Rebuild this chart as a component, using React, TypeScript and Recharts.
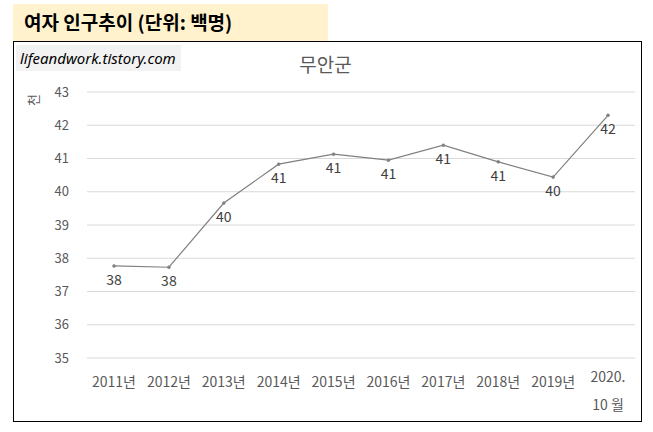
import { LineChart, Line, XAxis, YAxis, CartesianGrid, LabelList } from "recharts";

const categories = [
  "2011년",
  "2012년",
  "2013년",
  "2014년",
  "2015년",
  "2016년",
  "2017년",
  "2018년",
  "2019년",
  "2020.\n10 월",
];

// 여자 인구 (천명 단위로 환산한 값)
const population = [37.77, 37.73, 39.66, 40.83, 41.13, 40.95, 41.4, 40.9, 40.44, 42.3];

const yTicks = [35, 36, 37, 38, 39, 40, 41, 42, 43];

const data = categories.map((name, i) => ({ name, value: population[i] }));

const FONT = "'Noto Sans CJK KR', 'Noto Sans', sans-serif";

const XTick = (props: any) => {
  const { x, y, payload } = props;
  const lines = String(payload.value).split("\n");
  const multi = lines.length > 1;
  return (
    <text
      x={x}
      y={multi ? y - 5 : y}
      textAnchor="middle"
      fill="#595959"
      fontSize={14}
      fontFamily={FONT}
    >
      {lines.map((l, i) => (
        <tspan key={i} x={x} dy={i === 0 ? "0.71em" : 28}>
          {l}
        </tspan>
      ))}
    </text>
  );
};

export default function App() {
  return (
    <div
      style={{
        position: "absolute",
        left: 0,
        top: 0,
        width: 653,
        height: 432,
        background: "#fff",
        fontFamily: FONT,
      }}
    >
      {/* 제목 박스 */}
      <div
        style={{
          position: "absolute",
          left: 13,
          top: 4,
          width: 315,
          height: 37,
          background: "#fff2cc",
        }}
      />
      <div
        style={{
          position: "absolute",
          left: 24,
          top: 8,
          fontSize: 19,
          fontWeight: 700,
          color: "#000",
          lineHeight: "28px",
        }}
      >
        여자 인구추이 (단위: 백명)
      </div>

      {/* 차트 테두리 */}
      <div
        style={{
          position: "absolute",
          left: 13,
          top: 41,
          width: 627,
          height: 379,
          border: "1.5px solid #000",
        }}
      />

      {/* 워터마크 */}
      <div
        style={{
          position: "absolute",
          left: 16,
          top: 45,
          width: 165,
          height: 26,
          background: "#f2f2f2",
          fontStyle: "italic",
          fontSize: 15,
          lineHeight: "26px",
          color: "#000",
          paddingLeft: 4,
          boxSizing: "border-box",
          fontFamily: "'Noto Sans', sans-serif",
        }}
      >
        lifeandwork.tistory.com
      </div>

      <div
        style={{
          position: "absolute",
          left: 0,
          width: 653,
          top: 51,
          textAlign: "center",
          fontSize: 19,
          color: "#595959",
          lineHeight: "26px",
        }}
      >
        <span style={{ position: "relative", left: -1 }}>무안군</span>
      </div>

      <div
        style={{
          position: "absolute",
          left: 27,
          top: 92,
          fontSize: 13,
          color: "#595959",
          transform: "rotate(-90deg)",
          lineHeight: "16px",
        }}
      >
        천
      </div>

      <div style={{ position: "absolute", left: 0, top: 0 }}>
        <LineChart
          width={653}
          height={432}
          data={data}
          margin={{ top: 92, right: 18, bottom: 34, left: 27 }}
        >
          <CartesianGrid vertical={false} stroke="#d9d9d9" strokeWidth={1} />
          <XAxis
            dataKey="name"
            axisLine={false}
            tickLine={false}
            height={40}
            tickMargin={13}
            interval={0}
            padding={{ left: 27, right: 27 }}
            tick={<XTick />}
          />
          <YAxis
            domain={[35, 43]}
            ticks={yTicks}
            axisLine={false}
            tickLine={false}
            width={60}
            tickMargin={12}
            tick={{ fill: "#595959", fontSize: 13, fontFamily: FONT }}
          />
          <Line
            dataKey="value"
            stroke="#808080"
            strokeWidth={1.2}
            dot={{ r: 1.5, fill: "#808080", stroke: "#808080", strokeWidth: 0.5 }}
            isAnimationActive={false}
          >
            <LabelList
              dataKey="value"
              position="bottom"
              offset={9}
              formatter={(v: any) => Math.round(Number(v))}
              fill="#404040"
              fontSize={14}
              fontFamily={FONT}
            />
          </Line>
        </LineChart>
      </div>
    </div>
  );
}
